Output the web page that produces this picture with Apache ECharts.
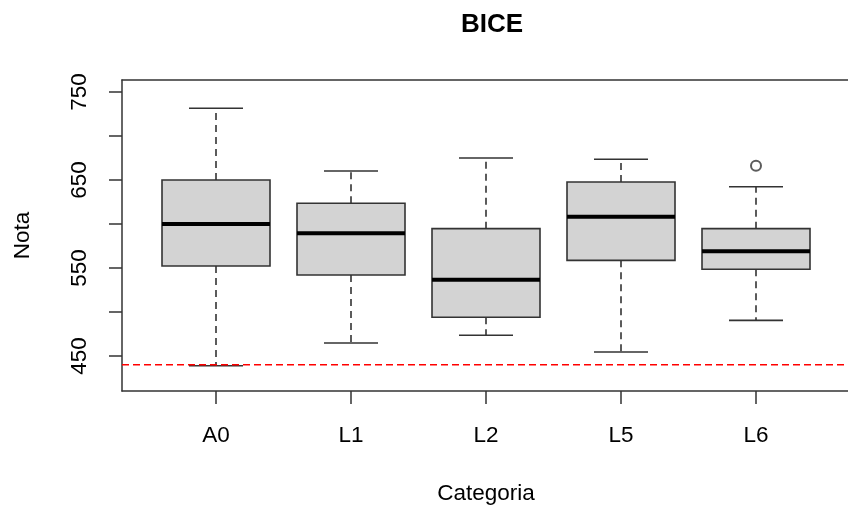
<!DOCTYPE html>
<html>
<head>
<meta charset="utf-8">
<script src="https://cdn.jsdelivr.net/npm/echarts@6/dist/echarts.min.js"></script>
<style>
html,body{margin:0;padding:0;background:#fff;}
#chart{width:848px;height:511px;}
</style>
</head>
<body>
<div id="chart"></div>
<script>
// ---- data ----
var categories = ['A0', 'L1', 'L2', 'L5', 'L6'];
var mins    = [439, 464.8, 473.5, 454.5, 490.5];
var q1s     = [552.3, 542, 494, 558.7, 548.5];
var medians = [600, 589.4, 536.7, 608.3, 569];
var q3s     = [650, 623.5, 594.7, 647.7, 594.7];
var maxs    = [731.5, 660.2, 675, 673.5, 642.4];
var outlierCats = ['L6'];
var outlierVals = [666.3];
var threshold = 440;
var yTicks = [450, 500, 550, 600, 650, 700, 750];
var yLabels = [450, 550, 650, 750];
var titleText = 'BICE';
var xName = 'Categoria';
var yName = 'Nota';

var yMin = 410.23, yMax = 763.64;
var FONT = '"Liberation Sans", Arial, sans-serif';
var INK = '#333333';

var boxData = categories.map(function (c, i) {
  return [i, mins[i], q1s[i], medians[i], q3s[i], maxs[i]];
});
var outlierData = outlierCats.map(function (c, i) {
  return [categories.indexOf(c), outlierVals[i]];
});

function renderBox(params, api) {
  var x = api.value(0);
  var bw = api.size([1, 0])[0];
  var half = bw * 0.4, cap = bw * 0.2;
  var pMin = api.coord([x, api.value(1)]);
  var pQ1 = api.coord([x, api.value(2)]);
  var pMed = api.coord([x, api.value(3)]);
  var pQ3 = api.coord([x, api.value(4)]);
  var pMax = api.coord([x, api.value(5)]);
  var cx = pMed[0];
  var dash = {stroke: INK, lineWidth: 1.6, lineDash: [7, 5]};
  var solid = {stroke: INK, lineWidth: 1.6};
  return {
    type: 'group',
    children: [
      {type: 'line', shape: {x1: cx, y1: pQ3[1], x2: cx, y2: pMax[1]}, style: dash},
      {type: 'line', shape: {x1: cx, y1: pQ1[1], x2: cx, y2: pMin[1]}, style: dash},
      {type: 'line', shape: {x1: cx - cap, y1: pMax[1], x2: cx + cap, y2: pMax[1]}, style: solid},
      {type: 'line', shape: {x1: cx - cap, y1: pMin[1], x2: cx + cap, y2: pMin[1]}, style: solid},
      {type: 'rect', shape: {x: cx - half, y: pQ3[1], width: half * 2, height: pQ1[1] - pQ3[1]},
        style: {fill: '#D3D3D3', stroke: INK, lineWidth: 1.6}},
      {type: 'line', shape: {x1: cx - half, y1: pMed[1], x2: cx + half, y2: pMed[1]},
        style: {stroke: '#000', lineWidth: 4}}
    ]
  };
}

var chart = echarts.init(document.getElementById('chart'), null, {renderer: 'canvas'});
chart.setOption({
  animation: false,
  backgroundColor: '#ffffff',
  title: {
    text: titleText, left: 487, top: 7, textAlign: 'center',
    textStyle: {fontFamily: FONT, fontSize: 26, fontWeight: 'bold', color: '#000'}
  },
  grid: [
    {left: 148.5, width: 675, top: 80, height: 311},
    {left: 122, width: 729, top: 80, height: 311}
  ],
  xAxis: [
    {
      type: 'category', gridIndex: 0, data: categories, boundaryGap: true,
      axisLine: {show: false},
      axisTick: {show: true, alignWithLabel: true, length: 13, lineStyle: {color: INK, width: 1.5}},
      axisLabel: {margin: 33, fontFamily: FONT, fontSize: 22.5, color: '#000'},
      splitLine: {show: false},
      name: xName, nameLocation: 'middle', nameGap: 91,
      nameTextStyle: {fontFamily: FONT, fontSize: 22.5, color: '#000'}
    },
    {
      type: 'value', gridIndex: 1, min: 0, max: 1, position: 'bottom',
      axisLine: {show: true, onZero: false, lineStyle: {color: INK, width: 1.5}},
      axisTick: {show: false}, axisLabel: {show: false}, splitLine: {show: false}
    },
    {
      type: 'value', gridIndex: 1, min: 0, max: 1, position: 'top',
      axisLine: {show: true, onZero: false, lineStyle: {color: INK, width: 1.5}},
      axisTick: {show: false}, axisLabel: {show: false}, splitLine: {show: false}
    }
  ],
  yAxis: [
    {
      type: 'value', gridIndex: 0, min: yMin, max: yMax, show: false, splitLine: {show: false}
    },
    {
      type: 'value', gridIndex: 1, min: yMin, max: yMax,
      axisLine: {show: true, onZero: false, lineStyle: {color: INK, width: 1.5}},
      axisTick: {show: true, length: 13, customValues: yTicks, lineStyle: {color: INK, width: 1.5}},
      axisLabel: {customValues: yLabels, rotate: 90, margin: 31, fontFamily: FONT, fontSize: 22.5, color: '#000'},
      splitLine: {show: false},
      name: yName, nameLocation: 'middle', nameGap: 88, nameRotate: 90,
      nameTextStyle: {fontFamily: FONT, fontSize: 22.5, color: '#000'}
    }
  ],
  series: [
    {
      type: 'custom', xAxisIndex: 0, yAxisIndex: 0,
      renderItem: renderBox, data: boxData, z: 2,
      encode: {x: 0, y: [1, 2, 3, 4, 5]}
    },
    {
      type: 'scatter', xAxisIndex: 0, yAxisIndex: 0, data: outlierData,
      symbol: 'emptyCircle', symbolSize: 10, z: 3,
      itemStyle: {color: INK, borderColor: INK, borderWidth: 1.3}
    },
    {
      type: 'line', xAxisIndex: 1, yAxisIndex: 1,
      data: [[0, threshold], [1, threshold]], symbol: 'none', z: 4,
      lineStyle: {color: '#FF0000', width: 1.5, type: [7, 4]}
    }
  ]
});
</script>
</body>
</html>
